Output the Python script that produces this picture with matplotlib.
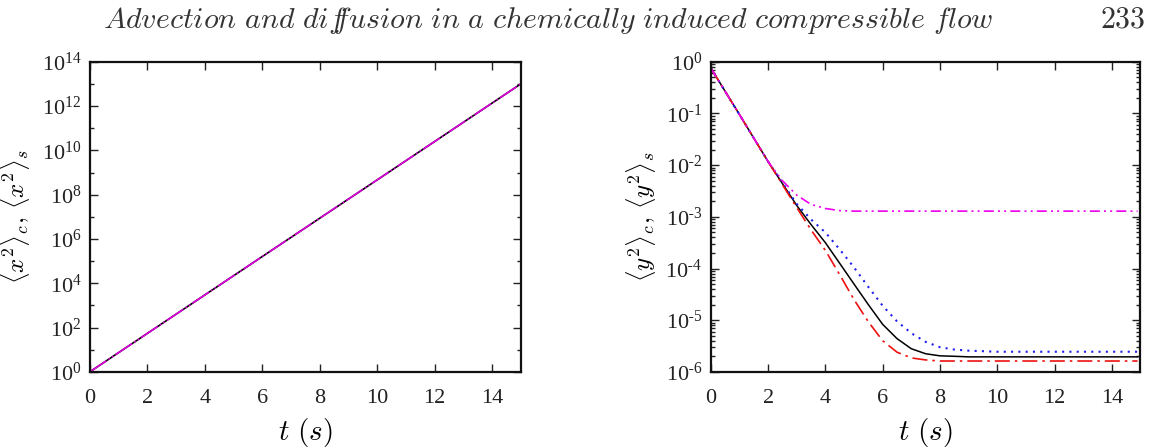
import numpy as np
import matplotlib
matplotlib.use("Agg")
import matplotlib.pyplot as plt
from matplotlib.ticker import LogLocator, FixedLocator, FuncFormatter, NullFormatter

# =========================
# data
# =========================

# left panel: <x^2>_c and <x^2>_s (they overlap)
t_x = [0, 3, 6, 9, 12, 15]
x2_c = [1.0, 4.0e2, 1.6e5, 6.3e7, 2.5e10, 1.0e13]
x2_s = [1.0, 4.0e2, 1.6e5, 6.3e7, 2.5e10, 1.0e13]

# right panel: <y^2> curves
t_black = [0, 1, 2, 3, 3.5, 4, 4.5, 5, 5.5, 6, 6.5, 7, 7.5, 8, 8.5, 9, 10, 12, 14.9]
y_black = [0.759, 0.0955, 0.01175, 1.66e-3, 7.08e-4, 3.16e-4, 1.26e-4, 5.0e-5, 2.0e-5,
           8.3e-6, 4.4e-6, 2.8e-6, 2.24e-6, 2.04e-6, 2.0e-6, 1.95e-6, 1.95e-6, 1.95e-6, 1.95e-6]

t_blue = [0, 1, 2, 3, 3.5, 4, 4.5, 5, 5.5, 6, 6.5, 7, 7.5, 8, 8.5, 9, 9.5, 10, 12, 14.9]
y_blue = [0.759, 0.0955, 0.01175, 1.78e-3, 8.9e-4, 5.0e-4, 2.34e-4, 1.05e-4, 4.4e-5, 1.9e-5,
          9.5e-6, 5.6e-6, 3.8e-6, 3.0e-6, 2.7e-6, 2.57e-6, 2.51e-6, 2.45e-6, 2.45e-6, 2.45e-6]

t_red = [0, 1, 2, 3, 3.5, 4, 4.5, 5, 5.5, 6, 6.5, 7, 7.5, 8, 9, 12, 14.9]
y_red = [0.759, 0.0955, 0.01175, 1.51e-3, 5.6e-4, 2.24e-4, 7.6e-5, 2.5e-5, 9.3e-6, 4.0e-6,
         2.4e-6, 1.86e-6, 1.7e-6, 1.62e-6, 1.62e-6, 1.62e-6, 1.62e-6]

t_mag = [0, 1, 2, 2.5, 3, 3.5, 4, 4.5, 5, 6, 8, 14.9]
y_mag = [0.759, 0.0955, 0.01175, 5.0e-3, 2.63e-3, 1.74e-3, 1.45e-3, 1.32e-3, 1.29e-3,
         1.29e-3, 1.29e-3, 1.29e-3]

title = "Advection and diffusion in a chemically induced compressible flow"
page = "233"

# =========================
# figure
# =========================

plt.rcParams["font.family"] = "serif"
plt.rcParams["font.serif"] = ["Liberation Serif", "DejaVu Serif"]
plt.rcParams["mathtext.fontset"] = "cm"

fig = plt.figure(figsize=(11.52, 4.48), dpi=100)
ax1 = fig.add_axes([0.078, 0.170, 0.374, 0.692])
ax2 = fig.add_axes([0.617, 0.170, 0.373, 0.692])

TICK_FS = 16


def pow10(v, pos):
    e = int(round(np.log10(v)))
    if e < 0:
        return r"$\mathregular{10^{\text{-}%d}}$" % (-e)
    return r"$\mathregular{10^{%d}}$" % e


def style(ax):
    ax.tick_params(which="both", direction="in", top=True, right=True,
                   labelsize=TICK_FS, width=1.0, colors="#222222")
    ax.tick_params(which="major", length=6)
    ax.tick_params(axis="x", which="major", pad=12)
    ax.tick_params(axis="y", which="major", pad=6)
    ax.tick_params(which="minor", length=3)
    for sp in ax.spines.values():
        sp.set_linewidth(1.6)
        sp.set_color("#111111")
    ax.set_xlim(0, 15)
    ax.xaxis.set_major_locator(FixedLocator([0, 2, 4, 6, 8, 10, 12, 14]))
    ax.set_xlabel(r"$t\ (s)$", fontsize=21, labelpad=6)


# ---- left panel
ax1.plot(t_x, x2_c, color="black", lw=1.2)
ax1.plot(t_x, x2_s, color="#dd00dd", lw=1.2, dashes=(12, 1.5, 1, 1.5, 1, 1.5))
ax1.set_yscale("log")
ax1.set_ylim(1, 1e14)
ax1.yaxis.set_major_locator(FixedLocator([10.0 ** k for k in range(0, 15, 2)]))
ax1.yaxis.set_minor_locator(FixedLocator([10.0 ** k for k in range(1, 14, 2)]))
ax1.yaxis.set_major_formatter(FuncFormatter(pow10))
ax1.yaxis.set_minor_formatter(NullFormatter())
style(ax1)
ax1.set_ylabel(r"$\langle x^2\rangle_c,\,\langle x^2\rangle_s$", fontsize=18, labelpad=7)

# ---- right panel
ax2.plot(t_black, y_black, color="black", lw=1.1)
ax2.plot(t_blue, y_blue, color="#2020ee", lw=1.5, dashes=(1, 2.5))
ax2.plot(t_red, y_red, color="#ee1111", lw=1.2, dashes=(9, 3, 1.5, 3))
ax2.plot(t_mag, y_mag, color="#ee00ee", lw=1.2, dashes=(6, 2.5, 1.2, 2.5, 1.2, 2.5))
ax2.set_yscale("log")
ax2.set_ylim(1e-6, 1)
ax2.yaxis.set_major_locator(LogLocator(base=10, numticks=10))
ax2.yaxis.set_minor_locator(LogLocator(base=10, subs=np.arange(2, 10), numticks=20))
ax2.yaxis.set_major_formatter(FuncFormatter(pow10))
ax2.yaxis.set_minor_formatter(NullFormatter())
style(ax2)
ax2.set_ylabel(r"$\langle y^2\rangle_c,\,\langle y^2\rangle_s$", fontsize=18, labelpad=5)

# ---- page header
head = title.replace(" ", r"\ ").replace("diffusion", r"dif\!\!fusion")
fig.text(0.476, 0.955, r"$\mathit{%s}$" % head,
         ha="center", va="center", fontsize=21.5, color="#333333")
fig.text(0.994, 0.955, r"$\mathrm{%s}$" % page, ha="right", va="center", fontsize=21.5,
         color="#333333")

fig.savefig("out.png", dpi=100)
